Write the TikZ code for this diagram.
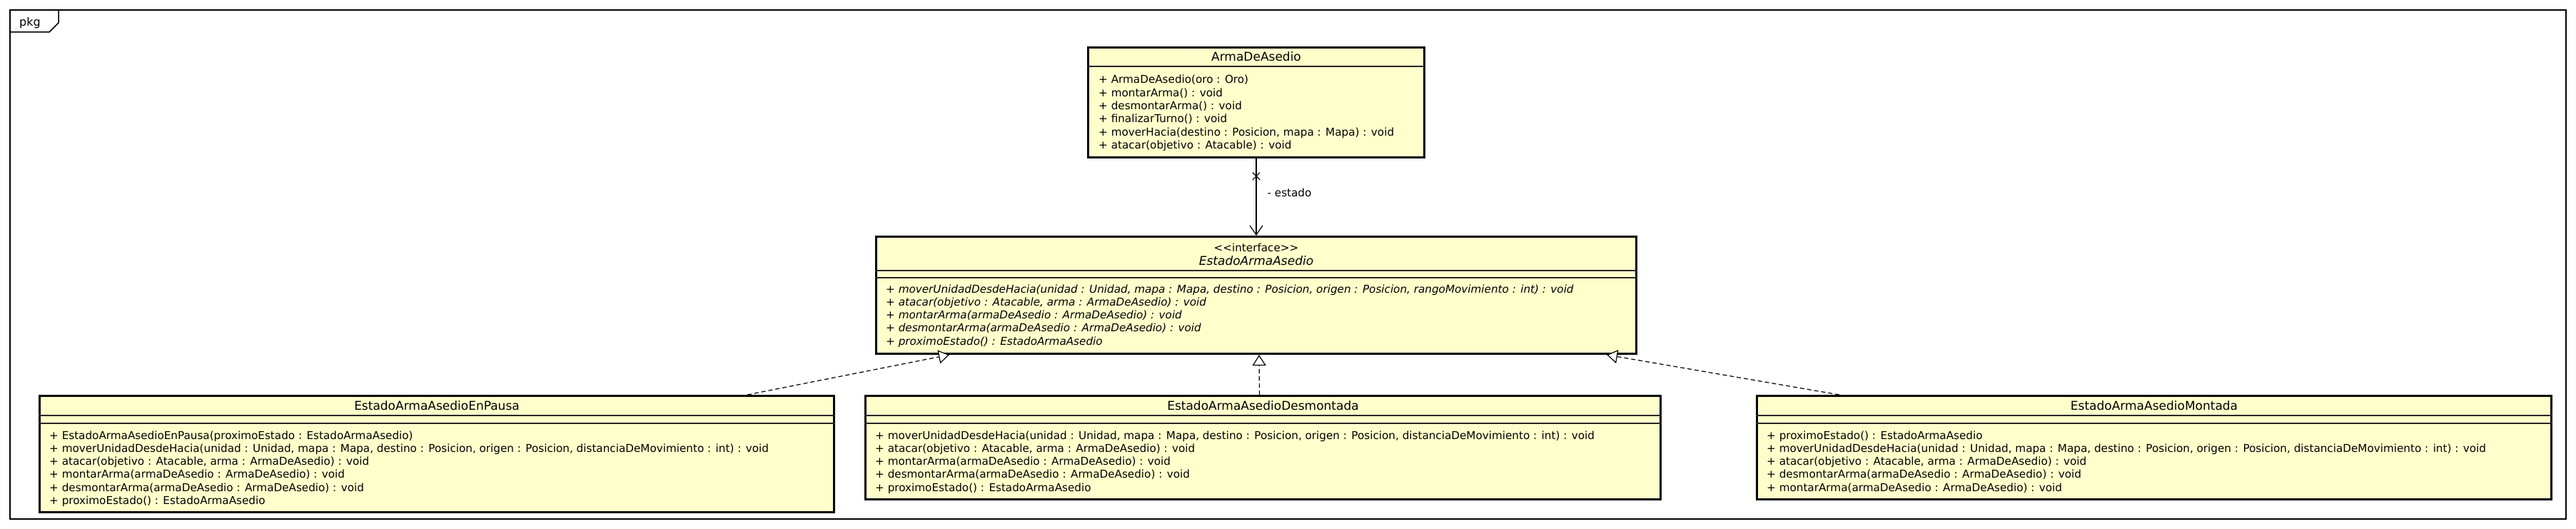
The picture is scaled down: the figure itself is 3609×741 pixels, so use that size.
\documentclass[tikz,border=0pt]{standalone}
\usepackage{fontspec}
\setmainfont{DejaVu Sans}
\usetikzlibrary{arrows.meta,shapes.misc}
\definecolor{classfill}{RGB}{255,255,204}
\begin{document}
\begin{tikzpicture}[x=1pt,y=-1pt,
  classbox/.style={draw, line width=3pt, fill=classfill, inner sep=0pt},
  classname/.style={anchor=base, inner sep=0pt, font=\fontsize{17}{20}\selectfont},
  member/.style={anchor=base west, inner sep=0pt, font=\fontsize{15.2}{18}\selectfont},
  sep/.style={line width=1.3pt, black!85},
  realize/.style={dash pattern=on 6pt off 4pt, line width=1.2pt, -{Triangle[open, length=15pt, width=19pt, fill=white]}},
  assoc/.style={line width=1.2pt, -{Straight Barb[length=13pt, width=18pt]}}]
\useasboundingbox (0,0) rectangle (3609,741);

% package frame
\draw[line width=1.5pt] (14,14) rectangle (3595,727);
\draw[line width=1.5pt] (14,45) -- (69,45) -- (82,32) -- (82,14);
\node[member, font=\fontsize{16}{18}\selectfont] (pkg) at (27,37) {pkg};

% ArmaDeAsedio
\node[classbox, minimum width=471pt, minimum height=154pt] (arma) at (1760,143.5) {};
\node[classname] (armaname) at (1760,86) {ArmaDeAsedio};
\draw[sep] (arma.west |- 0,93) -- (arma.east |- 0,93);
\foreach \m [count=\i from 0] in {{+ ArmaDeAsedio(oro : Oro)},
    {+ montarArma() : void},
    {+ desmontarArma() : void},
    {+ finalizarTurno() : void},
    {+ moverHacia(destino : Posicion, mapa : Mapa) : void},
    {+ atacar(objetivo : Atacable) : void}}
  \node[member] (armam\i) at (1539,{117+18.3*\i}) {\m};

% EstadoArmaAsedio
\node[classbox, minimum width=1065pt, minimum height=164pt] (estado) at (1760,413.5) {};
\node[classname, font=\fontsize{15.2}{18}\selectfont] (estadost) at (1760,352) {<\kern0pt<interface>\kern0pt>};
\node[classname, font=\fontsize{17}{20}\selectfont\itshape] (estadoname) at (1760,371) {EstadoArmaAsedio};
\draw[sep] (estado.west |- 0,379) -- (estado.east |- 0,379);
\draw[sep] (estado.west |- 0,389) -- (estado.east |- 0,389);
\foreach \m [count=\i from 0] in {{+ moverUnidadDesdeHacia(unidad : Unidad, mapa : Mapa, destino : Posicion, origen : Posicion, rangoMovimiento : int) : void},
    {+ atacar(objetivo : Atacable, arma : ArmaDeAsedio) : void},
    {+ montarArma(armaDeAsedio : ArmaDeAsedio) : void},
    {+ desmontarArma(armaDeAsedio : ArmaDeAsedio) : void},
    {+ proximoEstado() : EstadoArmaAsedio}}
  \node[member, font=\fontsize{15.2}{18}\selectfont\itshape] (estadom\i) at (1241,{410+18.3*\i}) {\m};

% EstadoArmaAsedioEnPausa
\node[classbox, minimum width=1113pt, minimum height=163pt] (pausa) at (612,636) {};
\node[classname] (pausaname) at (612,574) {EstadoArmaAsedioEnPausa};
\draw[sep] (pausa.west |- 0,582) -- (pausa.east |- 0,582);
\draw[sep] (pausa.west |- 0,593) -- (pausa.east |- 0,593);
\foreach \m [count=\i from 0] in {{+ EstadoArmaAsedioEnPausa(proximoEstado : EstadoArmaAsedio)},
    {+ moverUnidadDesdeHacia(unidad : Unidad, mapa : Mapa, destino : Posicion, origen : Posicion, distanciaDeMovimiento : int) : void},
    {+ atacar(objetivo : Atacable, arma : ArmaDeAsedio) : void},
    {+ montarArma(armaDeAsedio : ArmaDeAsedio) : void},
    {+ desmontarArma(armaDeAsedio : ArmaDeAsedio) : void},
    {+ proximoEstado() : EstadoArmaAsedio}}
  \node[member] (pausam\i) at (69,{615+18.3*\i}) {\m};

% EstadoArmaAsedioDesmontada
\node[classbox, minimum width=1114pt, minimum height=145pt] (desm) at (1769.5,627) {};
\node[classname] (desmname) at (1769.5,574) {EstadoArmaAsedioDesmontada};
\draw[sep] (desm.west |- 0,582) -- (desm.east |- 0,582);
\draw[sep] (desm.west |- 0,593) -- (desm.east |- 0,593);
\foreach \m [count=\i from 0] in {{+ moverUnidadDesdeHacia(unidad : Unidad, mapa : Mapa, destino : Posicion, origen : Posicion, distanciaDeMovimiento : int) : void},
    {+ atacar(objetivo : Atacable, arma : ArmaDeAsedio) : void},
    {+ montarArma(armaDeAsedio : ArmaDeAsedio) : void},
    {+ desmontarArma(armaDeAsedio : ArmaDeAsedio) : void},
    {+ proximoEstado() : EstadoArmaAsedio}}
  \node[member] (desmm\i) at (1226,{615+18.3*\i}) {\m};

% EstadoArmaAsedioMontada
\node[classbox, minimum width=1113pt, minimum height=145pt] (mont) at (3018,627) {};
\node[classname] (montname) at (3018,574) {EstadoArmaAsedioMontada};
\draw[sep] (mont.west |- 0,582) -- (mont.east |- 0,582);
\draw[sep] (mont.west |- 0,593) -- (mont.east |- 0,593);
\foreach \m [count=\i from 0] in {{+ proximoEstado() : EstadoArmaAsedio},
    {+ moverUnidadDesdeHacia(unidad : Unidad, mapa : Mapa, destino : Posicion, origen : Posicion, distanciaDeMovimiento : int) : void},
    {+ atacar(objetivo : Atacable, arma : ArmaDeAsedio) : void},
    {+ desmontarArma(armaDeAsedio : ArmaDeAsedio) : void},
    {+ montarArma(armaDeAsedio : ArmaDeAsedio) : void}}
  \node[member] (montm\i) at (2475,{615+18.3*\i}) {\m};

% connectors
\draw[assoc] (arma.south) -- (estado.north)
  node[cross out, draw, line width=1.2pt, minimum size=9pt, inner sep=0pt, pos=0.23] (assocx) {}
  node[member, anchor=west, pos=0.44, xshift=15pt] (assoclabel) {- estado};
\draw[realize] ([xshift=435pt]pausa.north) -- ([xshift=-430pt]estado.south);
\draw[realize] ([xshift=-5pt]desm.north) -- ([xshift=4pt]estado.south);
\draw[realize] ([xshift=-441pt]mont.north) -- ([xshift=491pt]estado.south);
\end{tikzpicture}
\end{document}
